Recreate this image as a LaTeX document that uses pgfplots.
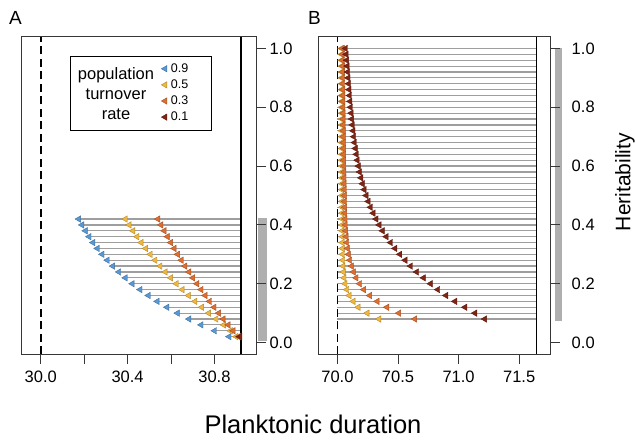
\documentclass[border=0pt]{standalone}
\usepackage{fontspec}
\setmainfont{Liberation Sans}
\usepackage{pgfplots}
\usepackage{pgfplotstable}
\pgfplotsset{compat=1.18}

\definecolor{tblue}{RGB}{88,152,212}
\definecolor{tyellow}{RGB}{240,183,62}
\definecolor{torange}{RGB}{222,110,48}
\definecolor{tred}{RGB}{128,36,20}
\definecolor{linegray}{RGB}{158,158,158}
\definecolor{bargray}{RGB}{175,175,175}
\definecolor{boxgray}{RGB}{55,55,55}

% panel A: heritability, turnover 0.9 / 0.5 / 0.3
\pgfplotstableread{
h    b      y      o
0.02 30.868 30.900 30.912
0.04 30.801 30.874 30.887
0.06 30.739 30.843 30.864
0.08 30.683 30.808 30.841
0.10 30.630 30.774 30.820
0.12 30.582 30.742 30.799
0.14 30.537 30.711 30.778
0.16 30.496 30.681 30.758
0.18 30.458 30.652 30.739
0.20 30.422 30.625 30.720
0.22 30.390 30.599 30.701
0.24 30.360 30.574 30.683
0.26 30.332 30.550 30.665
0.28 30.307 30.527 30.648
0.30 30.283 30.505 30.631
0.32 30.261 30.484 30.615
0.34 30.241 30.463 30.599
0.36 30.223 30.444 30.584
0.38 30.206 30.425 30.569
0.40 30.190 30.408 30.554
0.42 30.175 30.390 30.540
}\tabA

% panel B: turnover 0.5 / 0.3 / 0.1
\pgfplotstableread{
h    y      o      r
0.08 70.343 70.639 71.216
0.10 70.246 70.507 71.135
0.12 70.172 70.409 71.053
0.14 70.131 70.329 70.970
0.16 70.098 70.267 70.896
0.18 70.078 70.218 70.829
0.20 70.064 70.184 70.768
0.22 70.056 70.155 70.711
0.24 70.050 70.133 70.654
0.26 70.047 70.117 70.604
0.28 70.045 70.103 70.560
0.30 70.043 70.092 70.516
0.32 70.042 70.084 70.476
0.34 70.041 70.078 70.439
0.36 70.041 70.073 70.404
0.38 70.040 70.069 70.372
0.40 70.040 70.066 70.345
0.42 70.040 70.064 70.320
0.44 70.039 70.062 70.296
0.46 70.039 70.061 70.274
0.48 70.039 70.060 70.255
0.50 70.038 70.059 70.238
0.52 70.038 70.058 70.222
0.54 70.038 70.057 70.207
0.56 70.038 70.056 70.195
0.58 70.037 70.055 70.184
0.60 70.037 70.054 70.174
0.62 70.037 70.053 70.165
0.64 70.037 70.052 70.157
0.66 70.037 70.052 70.149
0.68 70.036 70.051 70.142
0.70 70.036 70.050 70.136
0.72 70.036 70.050 70.130
0.74 70.036 70.049 70.124
0.76 70.036 70.048 70.119
0.78 70.036 70.048 70.114
0.80 70.035 70.047 70.109
0.82 70.035 70.047 70.105
0.84 70.035 70.046 70.101
0.86 70.035 70.046 70.097
0.88 70.035 70.045 70.093
0.90 70.035 70.045 70.089
0.92 70.035 70.044 70.085
0.94 70.035 70.044 70.081
0.96 70.034 70.043 70.077
0.98 70.034 70.043 70.073
1.00 70.034 70.042 70.068
}\tabB

\pgfplotsset{
  panel/.style={
    scale only axis, height=317.6pt, ymin=-0.04, ymax=1.04,
    axis on top, clip=false,
    axis line style={draw=boxgray, line width=0.9pt},
    tick style={draw=boxgray, line width=0.9pt},
    tick align=outside, major tick length=9.5pt,
    xtick pos=bottom, ytick pos=right, yticklabel pos=right,
    ytick={0,0.2,0.4,0.6,0.8,1.0},
    yticklabels={0.0,0.2,0.4,0.6,0.8,1.0},
    ticklabel style={font=\fontsize{16.5}{18}\selectfont},
    xticklabel style={yshift=-4pt},
  },
  tri/.style={only marks, mark=triangle*, mark size=3.7pt,
    mark options={rotate=90, fill=#1, draw=#1!75!black, line width=0.4pt}},
  rows/.style={forget plot, draw=none, mark=none,
    error bars/.cd, x dir=plus, x explicit, error mark=none,
    error bar style={draw=linegray, line width=1.2pt}},
}

\begin{document}
\begin{tikzpicture}
\path[use as bounding box] (0,0) rectangle (636pt,440pt);

\begin{axis}[panel, at={(21pt,85.7pt)}, anchor=south west, width=235.5pt,
  xmin=29.909, xmax=30.994,
  xtick={30,30.2,30.4,30.6,30.8}, xticklabels={30.0,,30.4,,30.8},
  legend cell align=left,
  legend image code/.code={\draw[#1] plot coordinates {(3pt,0pt)};},
  legend style={draw=none, fill=none, at={(0.595,0.919)}, anchor=north west,
    font=\fontsize{12.5}{13}\selectfont, inner sep=0pt, row sep=3.9pt,
    column sep=3pt, nodes={inner sep=1pt}}]
\addplot[rows] table[x=b, y=h, x error expr={30.923-\thisrow{b}}] {\tabA};
\addplot[forget plot, draw=none, fill=bargray] coordinates {(31.003,0.005)(31.041,0.005)(31.041,0.425)(31.003,0.425)};
\addplot[tri=tblue] table[x=b, y=h] {\tabA};
\addlegendentry{0.9}
\addplot[tri=tyellow] table[x=y, y=h] {\tabA};
\addlegendentry{0.5}
\addplot[tri=torange] table[x=o, y=h] {\tabA};
\addlegendentry{0.3}
\addplot[tri=tred] coordinates {(30.918,0.02)};
\addlegendentry{0.1}
\addplot[forget plot, black, line width=1.5pt, dash pattern=on 8pt off 4.5pt] coordinates {(30,-0.04)(30,1.04)};
\addplot[forget plot, black, line width=1.6pt] coordinates {(30.923,-0.04)(30.923,1.04)};
\end{axis}

\begin{axis}[panel, at={(318pt,85.7pt)}, anchor=south west, width=232.7pt,
  xmin=69.84, xmax=71.760,
  xtick={70,70.5,71,71.5}, xticklabels={70.0,70.5,71.0,71.5},
  yticklabel style={xshift=8pt}]
\addplot[rows] table[x expr=70, y=h, x error expr=1.642] {\tabB};
\addplot[forget plot, draw=none, fill=bargray] coordinates {(71.795,0.073)(71.850,0.073)(71.850,1.002)(71.795,1.002)};
\addplot[tri=tyellow] table[x=y, y=h] {\tabB};
\addplot[tri=torange] table[x=o, y=h] {\tabB};
\addplot[tri=tred] table[x=r, y=h] {\tabB};
\addplot[forget plot, black, line width=1.5pt, dash pattern=on 8pt off 4.5pt] coordinates {(70,-0.04)(70,1.04)};
\addplot[forget plot, black, line width=1.6pt] coordinates {(71.642,-0.04)(71.642,1.04)};
\end{axis}

\draw[line width=1pt] (70pt,310pt) rectangle (211.7pt,383.3pt);
\node[align=center, font=\fontsize{16.5}{20}\selectfont] at (116pt,346pt) {population\\turnover\\rate};
\node[anchor=base west, inner sep=0pt, font=\fontsize{19}{21}\selectfont] at (9pt,415pt) {A};
\node[anchor=base west, inner sep=0pt, font=\fontsize{19}{21}\selectfont] at (308pt,415pt) {B};
\node[rotate=90, font=\fontsize{21}{24}\selectfont] at (625pt,258pt) {Heritability};
\node[anchor=base, inner sep=0pt, font=\fontsize{25.5}{28}\selectfont] at (313pt,7pt) {Planktonic duration};
\end{tikzpicture}
\end{document}
